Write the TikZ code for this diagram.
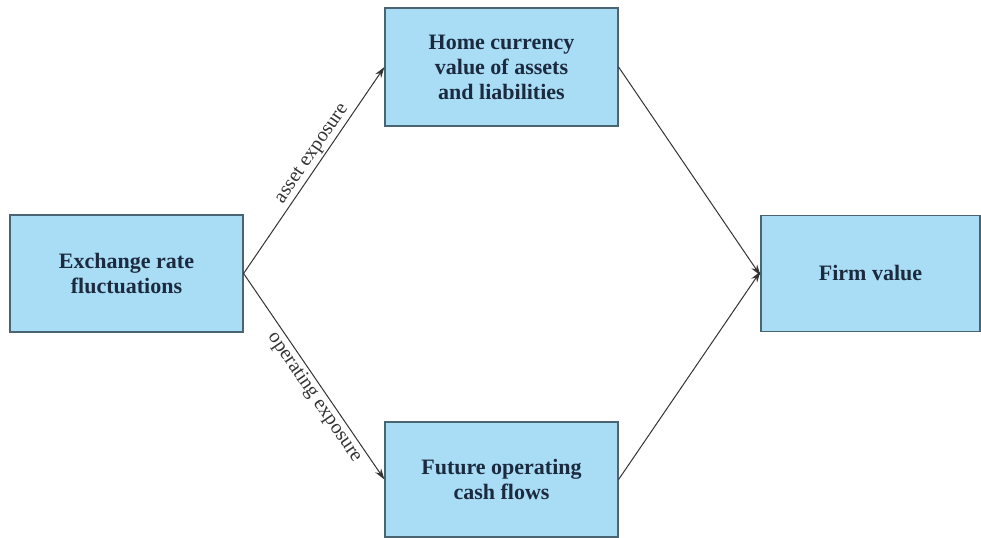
\documentclass[tikz,border=0pt]{standalone}
\usepackage{fontspec}
\setmainfont{Liberation Serif}
\usetikzlibrary{arrows.meta}
\definecolor{boxfill}{HTML}{A9DCF5}
\definecolor{boxline}{HTML}{4A6472}
\definecolor{txt}{HTML}{1B2A3E}
\definecolor{conn}{HTML}{333333}
\tikzset{
  fbox/.style={draw=boxline, line width=1.2bp, fill=boxfill, align=center,
    text=txt, font=\fontsize{22bp}{25bp}\selectfont\bfseries, inner sep=0pt},
  conline/.style={draw=conn, line width=1bp, -{Stealth[length=11bp,width=7bp]}},
  lab/.style={sloped, font=\fontsize{20bp}{22bp}\selectfont, text=conn, inner sep=2bp}
}
\begin{document}
\begin{tikzpicture}[x=1bp,y=-1bp]
\useasboundingbox (0,0) rectangle (981,538);
\node[fbox, minimum width=233bp, minimum height=117bp] (exch) at (126.5,273.5) {Exchange rate\\fluctuations};
\node[fbox, minimum width=233bp, minimum height=118bp] (home) at (501.5,67) {Home currency\\value of assets\\and liabilities};
\node[fbox, minimum width=219bp, minimum height=116bp] (firm) at (870.5,273.5) {Firm value};
\node[fbox, minimum width=233bp, minimum height=115bp] (fut) at (501.5,479.5) {Future operating\\cash flows};
\draw[conline] (exch.east) -- node[lab, above, pos=0.55] {asset exposure} (home.west);
\draw[conline] (exch.east) -- node[lab, below, pos=0.57] {operating exposure} (fut.west);
\draw[conline] (home.east) -- ([yshift=-2bp]firm.west);
\draw[conline] (fut.east) -- ([yshift=2bp]firm.west);
\end{tikzpicture}
\end{document}
